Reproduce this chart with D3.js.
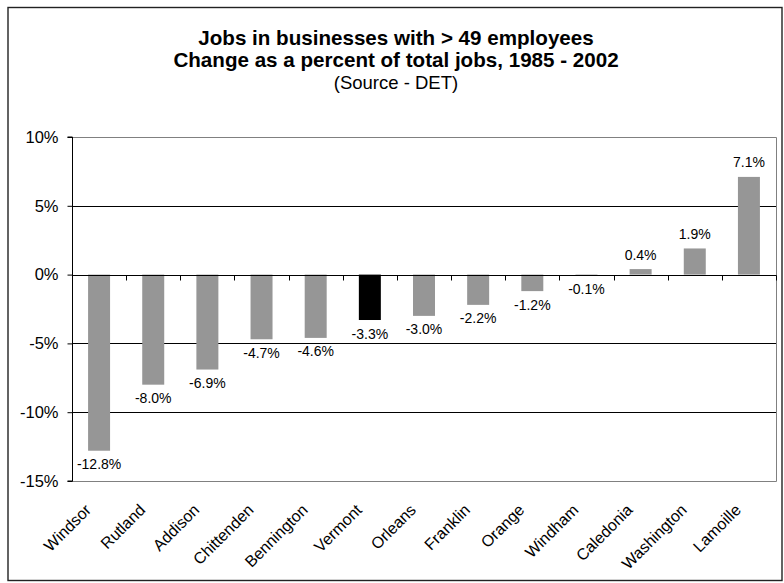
<!DOCTYPE html>
<html>
<head>
<meta charset="utf-8">
<script src="https://cdn.jsdelivr.net/npm/d3@7"></script>
<style>
  html, body { margin: 0; padding: 0; background: #fff; }
  svg { display: block; font-family: Arial, "Liberation Sans", sans-serif; }
</style>
</head>
<body>
<svg id="chart" width="784" height="583"></svg>
<script>
// County change in jobs at businesses with more than 49 employees, 1985-2002 (% of total jobs)
const counties = ["Windsor", "Rutland", "Addison", "Chittenden", "Bennington", "Vermont",
                  "Orleans", "Franklin", "Orange", "Windham", "Caledonia", "Washington", "Lamoille"];
const changePct = [-12.8, -8.0, -6.9, -4.7, -4.6, -3.3, -3.0, -2.2, -1.2, -0.1, 0.4, 1.9, 7.1];
const yTicks = [10, 5, 0, -5, -10, -15];
const highlight = "Vermont";

const titleLines = ["Jobs in businesses with > 49 employees",
                    "Change as a percent of total jobs, 1985 - 2002"];
const sourceLine = "(Source - DET)";

const svg = d3.select("#chart");
const plot = { left: 72, right: 776, top: 137, bottom: 481 };
const FONT = "Arial, 'Liberation Sans', sans-serif";

// Hyphen-minus percentage format, one decimal
const pct1 = v => (v < 0 ? "-" : "") + Math.abs(v).toFixed(1) + "%";
const pct0 = v => (v < 0 ? "-" : "") + Math.abs(v) + "%";

// Outer frame
svg.append("rect")
  .attr("x", 8).attr("y", 7.5).attr("width", 774).attr("height", 573)
  .attr("fill", "#fff").attr("stroke", "#222").attr("stroke-width", 1.4);

const x = d3.scaleBand().domain(counties).range([plot.left, plot.right])
  .paddingInner(0.594).paddingOuter(0.297);
const y = d3.scaleLinear().domain([-15, 10]).range([plot.bottom, plot.top]);

// Gridlines
svg.append("g").selectAll("line").data(yTicks.filter(t => t !== 0 && t !== 10 && t !== -15))
  .join("line")
  .attr("x1", plot.left).attr("x2", plot.right)
  .attr("y1", d => Math.round(y(d)) + 0.5).attr("y2", d => Math.round(y(d)) + 0.5)
  .attr("stroke", "#000").attr("stroke-width", 1);

// Plot border (top, right, bottom)
svg.append("path")
  .attr("d", `M${plot.left},${Math.round(plot.top) + 0.5} H${plot.right + 0.5} V${Math.round(plot.bottom) + 0.5} H${plot.left}`)
  .attr("fill", "none").attr("stroke", "#808080").attr("stroke-width", 1);

// Bars
svg.append("g").selectAll("rect").data(counties)
  .join("rect")
  .attr("x", d => x(d))
  .attr("width", x.bandwidth())
  .attr("y", (d, i) => y(Math.max(0, changePct[i])))
  .attr("height", (d, i) => Math.abs(y(changePct[i]) - y(0)))
  .attr("fill", d => d === highlight ? "#000" : "#969696");

// Value labels
svg.append("g").selectAll("text").data(counties)
  .join("text")
  .attr("x", d => x(d) + x.bandwidth() / 2)
  .attr("y", (d, i) => changePct[i] < 0 ? y(changePct[i]) + 18.5 : y(changePct[i]) - 9.5)
  .attr("text-anchor", "middle")
  .attr("font-family", FONT)
  .attr("font-size", 14)
  .attr("fill", "#000")
  .text((d, i) => pct1(changePct[i]));

// Y axis
const yAxis = svg.append("g").attr("transform", `translate(${plot.left + 0.5},0)`)
  .call(d3.axisLeft(y).tickValues(yTicks).tickSize(5).tickPadding(9).tickFormat(pct0));
yAxis.select(".domain").attr("stroke", "#000").attr("d", `M-5,${plot.top}H0V${plot.bottom}H-5`);
yAxis.selectAll(".tick line").attr("stroke", "#000");
yAxis.selectAll(".tick text")
  .attr("font-family", FONT)
  .attr("font-size", 16.5).attr("fill", "#000");

// Zero line with category tick marks
const zeroY = Math.round(y(0)) + 0.5;
svg.append("line")
  .attr("x1", plot.left).attr("x2", plot.right + 0.5)
  .attr("y1", zeroY).attr("y2", zeroY)
  .attr("stroke", "#000");
const bounds = d3.range(1, counties.length + 1).map(i => plot.left + i * x.step());
svg.append("g").selectAll("line").data(bounds)
  .join("line")
  .attr("x1", d => Math.round(d) + 0.5).attr("x2", d => Math.round(d) + 0.5)
  .attr("y1", zeroY).attr("y2", zeroY + 5)
  .attr("stroke", "#000");

// Category labels, rotated 45 degrees
svg.append("g").selectAll("text").data(counties)
  .join("text")
  .attr("transform", d => `translate(${x(d) + x.bandwidth() / 2 - 7},${plot.bottom + 30}) rotate(-45)`)
  .attr("text-anchor", "end")
  .attr("font-family", FONT)
  .attr("font-size", 16)
  .attr("fill", "#000")
  .text(d => d);

// Titles
const cx = 396;
svg.append("g").selectAll("text").data(titleLines)
  .join("text")
  .attr("x", cx)
  .attr("y", (d, i) => 45 + i * 22)
  .attr("text-anchor", "middle")
  .attr("font-family", FONT)
  .attr("font-size", 20.6)
  .attr("font-weight", "bold")
  .attr("fill", "#000")
  .text(d => d);
svg.append("text")
  .attr("x", cx).attr("y", 89)
  .attr("text-anchor", "middle")
  .attr("font-family", FONT)
  .attr("font-size", 18.5)
  .attr("fill", "#000")
  .text(sourceLine);
</script>
</body>
</html>
